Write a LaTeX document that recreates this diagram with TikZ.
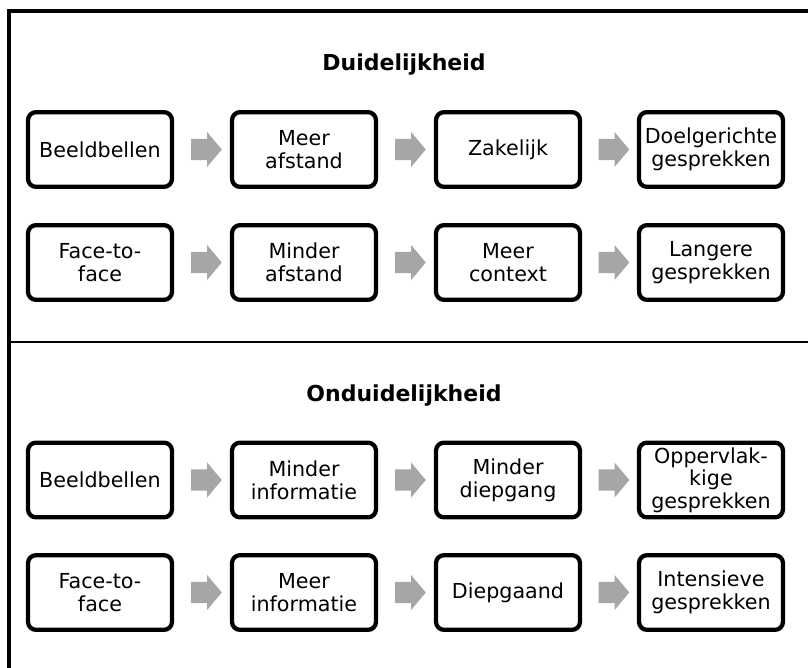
\documentclass[tikz,border=0pt]{standalone}
\usepackage{fontspec}
\setmainfont{DejaVu Sans}
\usetikzlibrary{shapes.arrows}

\definecolor{arrowgray}{RGB}{166,166,166}

\tikzset{
    stepbox/.style={draw, line width=3.2pt, rounded corners=6pt,
        minimum width=108pt, minimum height=56pt, inner sep=0pt,
        align=center, font=\fontsize{15.5}{17}\selectfont},
    flowarrow/.style={single arrow, fill=arrowgray, draw=none,
        minimum height=23pt, inner xsep=0pt, inner ysep=7.75pt,
        single arrow head extend=5.25pt, single arrow tip angle=100},
    heading/.style={anchor=base, font=\fontsize{16.5}{20}\selectfont\bfseries}
}

\begin{document}
\begin{tikzpicture}[x=0.75pt, y=-0.75pt]
    \useasboundingbox (0, 0) rectangle (808, 668);

    \draw[line width=2.5pt] (812, 11) -- (9, 11) -- (9, 672);
    \draw[line width=1.5pt] (9, 342) -- (812, 342);

    \node[heading] (h1) at (404, 70) {Duidelijkheid};
    \node[heading] (h2) at (404, 401) {Onduidelijkheid};

    \node[stepbox] (b1) at (100, 149.5) {Beeldbellen};
    \node[stepbox] (b2) at (304, 149.5) {Meer\\afstand};
    \node[stepbox] (b3) at (508, 149.5) {Zakelijk};
    \node[stepbox] (b4) at (711, 149.5) {Doelgerichte\\gesprekken};

    \node[stepbox] (f1) at (100, 262.5) {Face-to-\\face};
    \node[stepbox] (f2) at (304, 262.5) {Minder\\afstand};
    \node[stepbox] (f3) at (508, 262.5) {Meer\\context};
    \node[stepbox] (f4) at (711, 262.5) {Langere\\gesprekken};

    \node[stepbox] (ob1) at (100, 480) {Beeldbellen};
    \node[stepbox] (ob2) at (304, 480) {Minder\\informatie};
    \node[stepbox] (ob3) at (508, 480) {Minder\\diepgang};
    \node[stepbox] (ob4) at (711, 480) {Oppervlak-\\kige\\gesprekken};

    \node[stepbox] (of1) at (100, 592.5) {Face-to-\\face};
    \node[stepbox] (of2) at (304, 592.5) {Meer\\informatie};
    \node[stepbox] (of3) at (508, 592.5) {Diepgaand};
    \node[stepbox] (of4) at (711, 592.5) {Intensieve\\gesprekken};

    \path (b1) -- node[flowarrow] {} (b2);
    \path (b2) -- node[flowarrow] {} (b3);
    \path (b3) -- node[flowarrow] {} (b4);
    \path (f1) -- node[flowarrow] {} (f2);
    \path (f2) -- node[flowarrow] {} (f3);
    \path (f3) -- node[flowarrow] {} (f4);
    \path (ob1) -- node[flowarrow] {} (ob2);
    \path (ob2) -- node[flowarrow] {} (ob3);
    \path (ob3) -- node[flowarrow] {} (ob4);
    \path (of1) -- node[flowarrow] {} (of2);
    \path (of2) -- node[flowarrow] {} (of3);
    \path (of3) -- node[flowarrow] {} (of4);
\end{tikzpicture}
\end{document}
